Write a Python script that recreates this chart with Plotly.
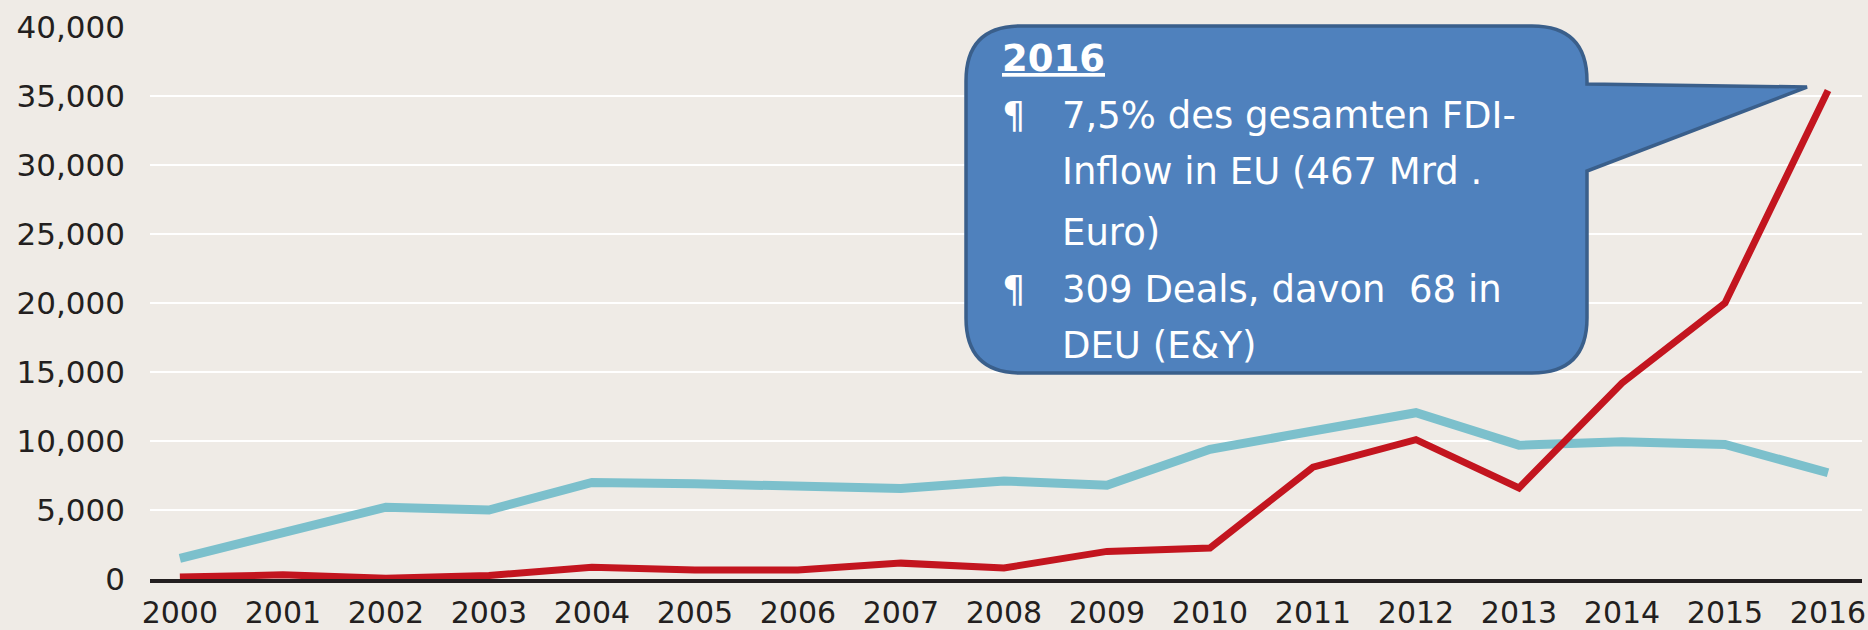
import plotly.graph_objects as go

years = list(range(2000, 2017))
series_blue = [1500, 3300, 5200, 5000, 7000, 6900, 6800, 6550, 7100, 6800, 9400, 10650, 12050, 9700, 9950, 9750, 7700]
series_red = [150, 300, 50, 250, 850, 650, 650, 1150, 800, 2000, 2250, 8100, 10100, 6600, 14200, 20000, 35400]
y_ticks = [0, 5000, 10000, 15000, 20000, 25000, 30000, 35000, 40000]

W, H = 1868, 630
ML, MR, MT, MB = 150, 6, 27, 51
PW, PH = W - ML - MR, H - MT - MB

def px(x):
    return (x - ML) / PW

def py(y):
    return (H - MB - y) / PH

BG = "#efebe6"

fig = go.Figure()
fig.add_trace(go.Scatter(x=years, y=series_blue, mode="lines",
                         line=dict(color="#7cc0cc", width=9), showlegend=False))
fig.add_trace(go.Scatter(x=years, y=series_red, mode="lines",
                         line=dict(color="#c3151f", width=7), showlegend=False))

# callout shape (pixel coordinates converted to paper)
L, R, T, B, r = 966, 1587, 26, 373, 55
pt_top, pt_bot, tip_x, tip_y = 84, 171, 1807, 87
pts = [
    ("M", [(L + r, T)]),
    ("L", [(R - r, T)]),
    ("Q", [(R, T), (R, T + r)]),
    ("L", [(R, pt_top)]),
    ("L", [(tip_x, tip_y)]),
    ("L", [(R, pt_bot)]),
    ("L", [(R, B - r)]),
    ("Q", [(R, B), (R - r, B)]),
    ("L", [(L + r, B)]),
    ("Q", [(L, B), (L, B - r)]),
    ("L", [(L, T + r)]),
    ("Q", [(L, T), (L + r, T)]),
]
path = ""
for cmd, coords in pts:
    path += cmd + " " + " ".join(f"{px(x):.5f},{py(y):.5f}" for x, y in coords) + " "
path += "Z"

fig.add_shape(type="path", path=path, xref="paper", yref="paper",
              fillcolor="#4f81bd", line=dict(color="#3a5f8b", width=3.5), layer="above")

FONT = "DejaVu Sans"
ann_font = dict(family=FONT, size=37, color="white")

def add_text(x, y_center, text, font=ann_font):
    fig.add_annotation(x=px(x), y=py(y_center), xref="paper", yref="paper",
                       text=text, showarrow=False, xanchor="left", yanchor="middle",
                       font=font)

add_text(1000, 58, "<b><u>2016</u></b>", dict(family=FONT, size=37, color="white"))
lines = [
    (True, "7,5% des gesamten FDI-"),
    (False, "Inflow in EU (467 Mrd ."),
    (False, "Euro)"),
    (True, "309 Deals, davon\u00a0 68 in"),
    (False, "DEU (E&amp;Y)"),
]
baselines = [128, 185, 245, 302, 358]
for (bullet, txt), bl in zip(lines, baselines):
    c = bl - 13
    if bullet:
        add_text(1000, c, "¶")
    add_text(1060, c, txt)

fig.update_layout(
    template="none",
    width=W, height=H,
    margin=dict(l=ML, r=MR, t=MT, b=MB, pad=0, autoexpand=False),
    paper_bgcolor=BG, plot_bgcolor=BG,
    showlegend=False,
    xaxis=dict(range=[1999.71, 2016.33], tickvals=years, ticktext=[str(y) for y in years],
               showgrid=False, zeroline=False, showline=True, linecolor="#231f20", linewidth=3.5,
               ticks="", tickfont=dict(family=FONT, size=30, color="#231f20"),
               ticklabelstandoff=4, ticklabeloverflow="allow", automargin=False),
    yaxis=dict(range=[0, 40000], tickvals=y_ticks, tickformat=",",
               showgrid=True, gridcolor="#ffffff", gridwidth=2,
               zeroline=False, showline=False, ticks="",
               tickfont=dict(family=FONT, size=31, color="#231f20"),
               ticklabelstandoff=24, automargin=False),
)

fig.write_html("out.html", config={"displayModeBar": False},
               post_script="document.body.style.margin='0px';document.body.style.background='%s';" % BG)
